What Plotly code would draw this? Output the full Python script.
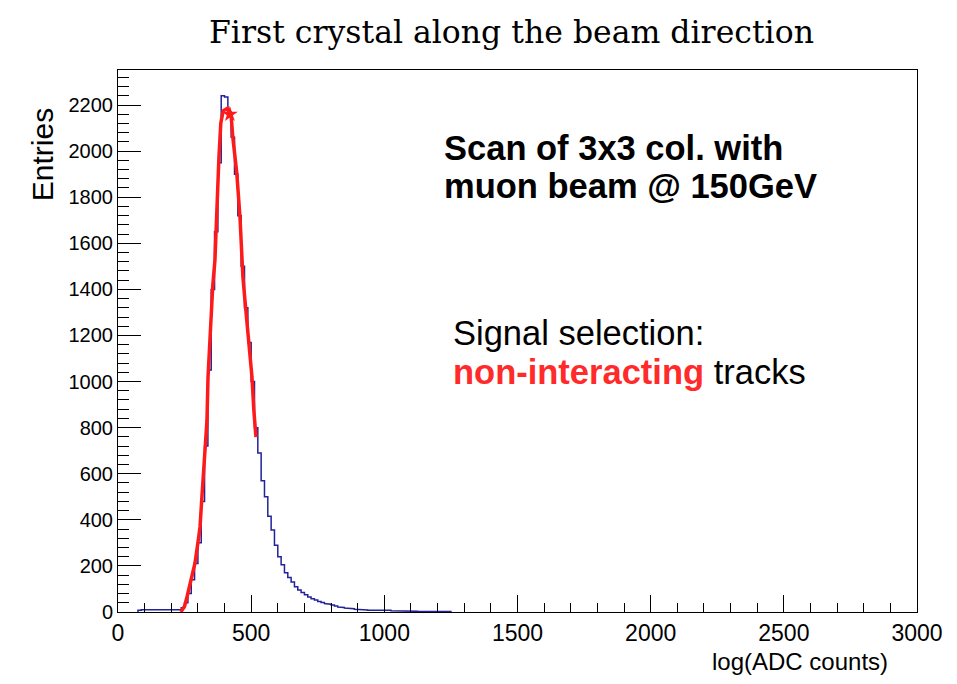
import plotly.graph_objects as go

# ---------------- data ----------------
bin_width = 12.5
bin_start = 75.0  # left edge of first listed bin
counts = [
    8, 10, 10, 9, 10, 9, 10, 9, 12, 10, 9, 10, 10,          # 75 .. 225
    18, 40, 80, 140, 210, 300, 480, 720, 1050, 1400, 1650,  # 237.5 .. 362.5
    1950, 2240, 2235, 2170, 2060, 1900, 1720, 1500, 1320,   # 375 .. 475
    1170, 1000, 800, 690, 570, 500, 415, 356, 290, 240,     # 487.5 .. 600
    205, 170, 150, 130, 110, 95, 85, 75, 65, 58, 52, 46,    # 612.5 .. 750
    41, 37, 34, 30, 26, 22, 20, 17, 15, 14, 12, 10, 12,     # 762.5 .. 912.5
    9, 8, 9, 7, 8, 6, 7, 8, 5, 6, 4, 5, 4, 3, 4, 3, 2, 3,   # 925 .. 1137.5
    0, 0, 0, 2, 0, 0, 0, 2,                                 # 1150 .. 1237.5
]

fit_x = [236, 250, 259, 275, 289, 300, 308, 315, 326, 334, 338, 345, 356,
         364, 368, 375, 379, 386, 395, 410, 425, 431, 446, 458, 465, 469,
         480, 491, 503, 510, 518]
fit_y = [0, 25, 65, 140, 212, 300, 369, 499, 690, 830, 1020, 1210, 1420,
         1527, 1657, 1830, 1974, 2121, 2175, 2185, 2150, 2061, 1905, 1714,
         1540, 1453, 1310, 1167, 1020, 876, 759]

peak_marker_x = [420]
peak_marker_y = [2160]

x_range = [0, 3000]
y_range = [0, 2352]

# ---------------- build step outline ----------------
edges = [bin_start + i * bin_width for i in range(len(counts) + 1)]
hx = [edges[0]]
hy = [0]
for i, c in enumerate(counts):
    hx += [edges[i], edges[i + 1]]
    hy += [c, c]
hx.append(edges[-1])
hy.append(0)

fig = go.Figure()
fig.add_trace(go.Scatter(x=hx, y=hy, mode="lines",
                         line=dict(color="#22229a", width=1.5),
                         hoverinfo="skip", showlegend=False))
fig.add_trace(go.Scatter(x=fit_x, y=fit_y, mode="lines",
                         line=dict(color="#ff1a1a", width=3.5),
                         showlegend=False))
fig.add_trace(go.Scatter(x=peak_marker_x, y=peak_marker_y, mode="markers",
                         marker=dict(symbol="star", size=12, color="#ff1a1a"),
                         showlegend=False))

sans = "Liberation Sans, Arial, sans-serif"

fig.update_layout(
    width=957, height=684,
    margin=dict(l=118, r=40, t=70, b=72),
    paper_bgcolor="white", plot_bgcolor="white",
    font=dict(family=sans, color="black"),
    xaxis=dict(range=x_range, dtick=500, tick0=0, ticks="inside", ticklen=17,
               tickwidth=1, tickcolor="black", showline=True, mirror=True,
               linecolor="black", linewidth=1, showgrid=False, zeroline=False,
               tickfont=dict(family=sans, size=23, color="black"),
               minor=dict(ticks="inside", ticklen=9, dtick=100, tickcolor="black",
                          showgrid=False)),
    yaxis=dict(range=y_range, dtick=200, tick0=0, ticks="inside", ticklen=23,
               tickwidth=1, tickcolor="black", showline=True, mirror=True,
               linecolor="black", linewidth=1, showgrid=False, zeroline=False,
               tickfont=dict(family=sans, size=20, color="black"),
               minor=dict(ticks="inside", ticklen=11, dtick=40, tickcolor="black",
                          showgrid=False)),
    annotations=[
        dict(text="First crystal along the beam direction", xref="paper", yref="paper",
             x=0.493, y=1.070, xanchor="center", yanchor="middle", showarrow=False,
             font=dict(family="DejaVu Serif, serif", size=31.5, color="black")),
        dict(text="log(ADC counts)", xref="paper", yref="paper",
             x=0.966, y=-0.092, xanchor="right", yanchor="middle", showarrow=False,
             font=dict(family=sans, size=24, color="black")),
        dict(text="Entries", xref="paper", yref="paper", textangle=-90,
             x=-0.095, y=0.843, xanchor="center", yanchor="middle", showarrow=False,
             font=dict(family=sans, size=30, color="black")),
        dict(text="<b>Scan of 3x3 col. with</b>", xref="paper", yref="paper",
             x=0.4055, y=0.856, xanchor="left", yanchor="middle", showarrow=False,
             font=dict(family=sans, size=34.5, color="black")),
        dict(text="<b>muon beam @ 150GeV</b>", xref="paper", yref="paper",
             x=0.4055, y=0.786, xanchor="left", yanchor="middle", showarrow=False,
             font=dict(family=sans, size=34.5, color="black")),
        dict(text="Signal selection:", xref="paper", yref="paper",
             x=0.4165, y=0.515, xanchor="left", yanchor="middle", showarrow=False,
             font=dict(family=sans, size=34.5, color="black")),
        dict(text="<b><span style='color:#ff2a2a'>non-interacting</span></b> tracks",
             xref="paper", yref="paper",
             x=0.4165, y=0.443, xanchor="left", yanchor="middle", showarrow=False,
             font=dict(family=sans, size=34.5, color="black")),
    ],
)

fig.write_html("out.html")
